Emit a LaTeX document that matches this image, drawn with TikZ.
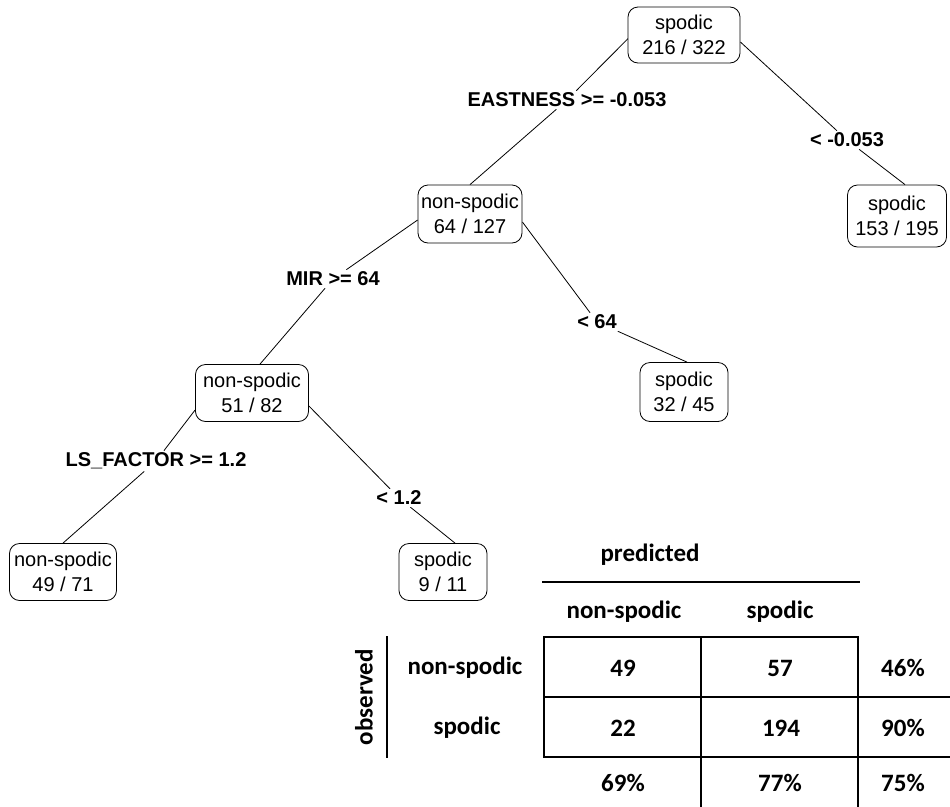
\documentclass[tikz,border=0pt]{standalone}
\usepackage{fontspec}
\setmainfont{Liberation Sans}
\newfontfamily\tabfont{Carlito}
\usetikzlibrary{calc,backgrounds}
\newcommand{\ctrtxt}[1]{\makebox[0pt]{#1}}
\begin{document}
\begin{tikzpicture}[x=1pt,y=-1pt,
  leaf/.style={draw, fill=white, rectangle, rounded corners=10pt, line width=0.8pt, align=center,
    font=\fontsize{20}{25}\selectfont, inner sep=0pt},
  splitlab/.style={fill=white, inner sep=2pt, font=\fontsize{20}{24}\selectfont\bfseries},
  edge/.style={line width=0.8pt},
  tab/.style={inner sep=0pt, font=\tabfont\bfseries\fontsize{25}{30}\selectfont},
  gridline/.style={line width=2.6pt, line cap=rect}]
\useasboundingbox (0,0) rectangle (950,806);

% tree nodes
\node[leaf, minimum width=112pt, minimum height=56pt] (root) at (684,35) {\ctrtxt{spodic}\\\ctrtxt{216 / 322}};
\node[leaf, minimum width=104pt, minimum height=58pt] (A) at (470,214) {\ctrtxt{non-spodic}\\\ctrtxt{64 / 127}};
\node[leaf, minimum width=99pt, minimum height=62pt] (B) at (897,216) {\ctrtxt{spodic}\\\ctrtxt{153 / 195}};
\node[leaf, minimum width=113pt, minimum height=57pt] (C) at (252,393) {\ctrtxt{non-spodic}\\\ctrtxt{51 / 82}};
\node[leaf, minimum width=88pt, minimum height=59pt] (D) at (684,392) {\ctrtxt{spodic}\\\ctrtxt{32 / 45}};
\node[leaf, minimum width=107pt, minimum height=57pt] (E) at (63,572) {\ctrtxt{non-spodic}\\\ctrtxt{49 / 71}};
\node[leaf, minimum width=88pt, minimum height=57pt] (F) at (443,572) {\ctrtxt{spodic}\\\ctrtxt{9 / 11}};

% split labels
\node[splitlab] (l1) at (567,100) {EASTNESS >= -0.053};
\node[splitlab] (l2) at (847,140) {< -0.053};
\node[splitlab] (l3) at (333,279) {MIR >= 64};
\node[splitlab] (l4) at (597,322) {< 64};
\node[splitlab] (l5) at (156,461) {LS\_FACTOR >= 1.2};
\node[splitlab] (l6) at (399,498) {< 1.2};

\begin{pgfonlayer}{background}
\draw[edge] ($(root.west)+(2,2)$) -- (l1) -- (A.north);
\draw[edge] ($(root.east)+(0,7)$) -- (l2) -- ($(B.north)+(8,0)$);
\draw[edge] ($(A.west)+(0,6)$) -- (l3) -- ($(C.north)+(8,0)$);
\draw[edge] ($(A.east)+(0,8)$) -- (l4) -- ($(D.north)+(3,0)$);
\draw[edge] ($(C.west)+(0,17)$) -- (l5) -- (E.north);
\draw[edge] ($(C.east)+(0,13)$) -- (l6) -- ($(F.north)+(12,0)$);
\end{pgfonlayer}

% confusion table
\node[tab] (pred) at (650,555) {predicted};
\coordinate (ul1) at (543,582);
\coordinate (ul2) at (859,582);
\draw[gridline] (ul1) -- (ul2);
\node[tab] (hns) at (624,612) {non-spodic};
\node[tab] (hs) at (780,612) {spodic};
\node[tab, rotate=90] (obs) at (364,697) {observed};
\coordinate (ob1) at (387,637);
\coordinate (ob2) at (387,757);
\draw[gridline] (ob1) -- (ob2);
\node[tab] (rns) at (465,668) {non-spodic};
\node[tab] (rs) at (467,728) {spodic};

\coordinate (g11) at (544,637);
\coordinate (g12) at (858,637);
\coordinate (g21) at (544,697);
\coordinate (g22) at (950,697);
\coordinate (g31) at (544,757);
\coordinate (g32) at (950,757);
\coordinate (v2a) at (701,637);
\coordinate (v2b) at (701,806);
\coordinate (v3a) at (858,637);
\coordinate (v3b) at (858,806);
\draw[gridline] (g31) -- (g11) -- (g12);
\draw[gridline] (g21) -- (g22);
\draw[gridline] (g31) -- (g32);
\draw[gridline] (v2a) -- (v2b);
\draw[gridline] (v3a) -- (v3b);

\node[tab] (c11) at (623,668) {49};
\node[tab] (c12) at (780,668) {57};
\node[tab] (c13) at (903,668) {46\%};
\node[tab] (c21) at (623,728) {22};
\node[tab] (c22) at (781,728) {194};
\node[tab] (c23) at (903,728) {90\%};
\node[tab] (c31) at (623,783) {69\%};
\node[tab] (c32) at (780,783) {77\%};
\node[tab] (c33) at (903,783) {75\%};
\end{tikzpicture}
\end{document}
